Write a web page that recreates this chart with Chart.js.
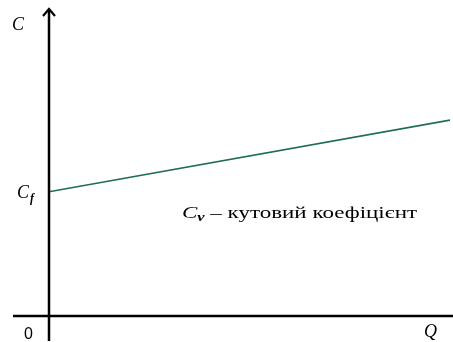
<!DOCTYPE html>
<html lang="uk">
<head>
<meta charset="UTF-8">
<title>Витрати</title>
<script src="https://cdn.jsdelivr.net/npm/chart.js"></script>
<style>
  html, body { margin: 0; padding: 0; background: #ffffff; }
  #wrap { width: 453px; height: 342px; position: relative; }
</style>
</head>
<body>
<div id="wrap"><canvas id="costChart"></canvas></div>
<script>
// обсяг Q (умовні одиниці) і витрати C
const qValues = [0, 100];
const costValues = [40.6, 64];
const axisLabels = { y: 'C', x: 'Q', origin: '0' };
const fixedLabel = 'f';
const slopeLabel = ' – кутовий коефіцієнт';

const SERIF = '"Liberation Serif", "DejaVu Serif", serif';

// осі, стрілка та підписи
const axesPlugin = {
  id: 'axesPlugin',
  afterDraw(chart) {
    const ctx = chart.ctx;
    const xs = chart.scales.x, ys = chart.scales.y;
    const x0 = xs.getPixelForValue(0);
    const y0 = ys.getPixelForValue(0);
    ctx.save();
    ctx.strokeStyle = '#000';
    ctx.lineWidth = 2.5;
    ctx.beginPath();
    ctx.moveTo(x0, 10);
    ctx.lineTo(x0, 341);
    ctx.moveTo(13, y0);
    ctx.lineTo(chart.width, y0);
    ctx.stroke();
    // стрілка
    ctx.lineWidth = 2.2;
    ctx.beginPath();
    ctx.moveTo(x0 - 6, 16);
    ctx.lineTo(x0, 9);
    ctx.lineTo(x0 + 6, 16);
    ctx.stroke();

    ctx.fillStyle = '#000';
    ctx.textBaseline = 'alphabetic';
    ctx.font = 'italic 18px ' + SERIF;
    ctx.fillText(axisLabels.y, 12, 30);
    ctx.fillText(axisLabels.x, 424, 337);

    const yf = ys.getPixelForValue(costValues[0]);
    ctx.fillText('C', 17, yf + 6);
    ctx.font = 'italic bold 12px ' + SERIF;
    ctx.fillText(fixedLabel, 30, yf + 10);

    ctx.font = '16px "Liberation Sans", Arial, sans-serif';
    ctx.fillText(axisLabels.origin, 24, 339);

    // підпис кутового коефіцієнта, розтягнутий до ширини оригіналу
    const tx = 182, ty = 218, target = 235;
    ctx.font = 'italic 17px ' + SERIF;
    const wC = ctx.measureText('C').width;
    ctx.font = 'italic bold 12px ' + SERIF;
    const wV = ctx.measureText('v').width;
    ctx.font = '17px ' + SERIF;
    const wT = ctx.measureText(slopeLabel).width;
    const k = target / (wC + wV + wT);
    ctx.translate(tx, ty);
    ctx.scale(k, 1);
    ctx.font = 'italic 17px ' + SERIF;
    ctx.fillText('C', 0, 0);
    ctx.font = 'italic bold 12px ' + SERIF;
    ctx.fillText('v', wC, 3);
    ctx.font = '17px ' + SERIF;
    ctx.fillText(slopeLabel, wC + wV, 0);
    ctx.restore();
  }
};

new Chart(document.getElementById('costChart'), {
  type: 'scatter',
  data: {
    datasets: [{
      data: qValues.map((q, i) => ({ x: q, y: costValues[i] })),
      showLine: true,
      borderColor: '#1f6e4c',
      borderWidth: 1.6,
      pointRadius: 0,
      fill: false
    }]
  },
  options: {
    responsive: true,
    maintainAspectRatio: false,
    animation: false,
    layout: { padding: { left: 49, right: 3, top: 10, bottom: 26 } },
    plugins: { legend: { display: false }, tooltip: { enabled: false } },
    scales: {
      x: { type: 'linear', min: 0, max: 100, display: false },
      y: { type: 'linear', min: 0, max: 100, display: false }
    }
  },
  plugins: [axesPlugin]
});
</script>
</body>
</html>
